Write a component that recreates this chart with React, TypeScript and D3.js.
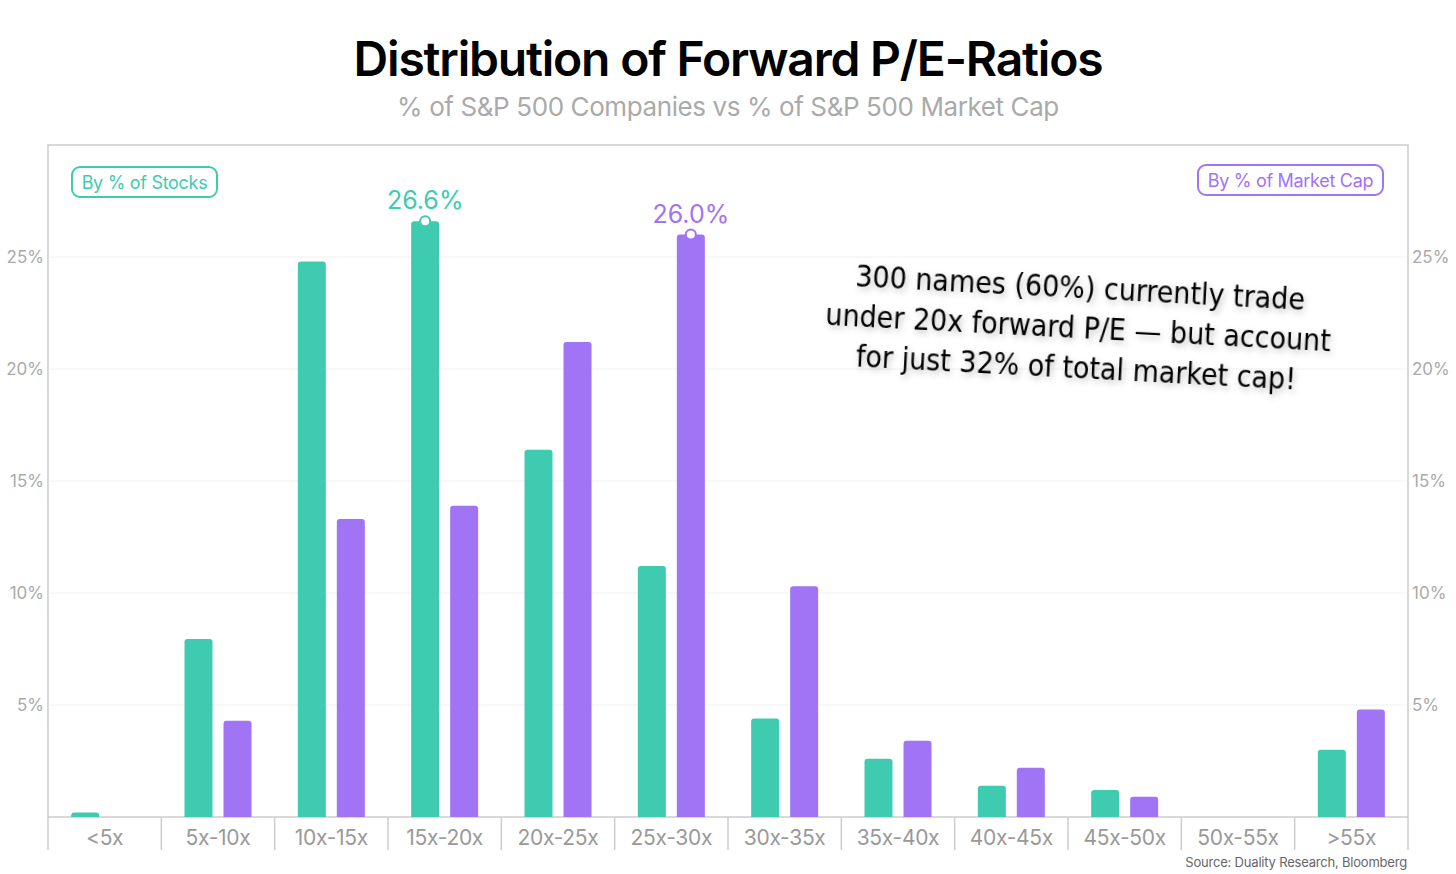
import React from "react";
import * as d3 from "d3";

const categories = ["<5x","5x-10x","10x-15x","15x-20x","20x-25x","25x-30x","30x-35x","35x-40x","40x-45x","45x-50x","50x-55x",">55x"];
const stocks = [0.2,7.95,24.8,26.6,16.4,11.2,4.4,2.6,1.4,1.2,0,3.0];
const mcap = [0,4.3,13.3,13.9,21.2,26.0,10.3,3.4,2.2,0.9,0,4.8];
const yTicks = [5,10,15,20,25];

const G = "#3ECBB0", P = "#A173F5";
const W = 1456, H = 874, L = 48, R = 1408, T = 145, B = 817;

function topRounded(x: number, y: number, w: number, h: number, r: number) {
  if (h <= 0) return "";
  r = Math.min(r, h);
  return `M${x},${y + h}V${y + r}Q${x},${y} ${x + r},${y}H${x + w - r}Q${x + w},${y} ${x + w},${y + r}V${y + h}Z`;
}

export default function App() {
  const x = d3.scaleBand().domain(categories).range([L, R]);
  const y = d3.scaleLinear().domain([0, 30]).range([B, T]);
  const bw = 28, off = 19.5;
  const font = "Inter, 'Noto Sans', sans-serif";
  const imax = 3, jmax = 5;
  return (
    <svg width={W} height={H} style={{ position: "absolute", left: 0, top: 0, background: "#fff" }} fontFamily={font}>
      <text x={728} y={76} textAnchor="middle" fontSize={48} fontWeight={600} letterSpacing={-1.2} fill="#000">Distribution of Forward P/E-Ratios</text>
      <text x={728} y={116} textAnchor="middle" fontSize={26} letterSpacing={-0.4} fill="#aaa">% of S&amp;P 500 Companies vs % of S&amp;P 500 Market Cap</text>
      {yTicks.map(t => (
        <g key={t}>
          <line x1={L} x2={R} y1={y(t)} y2={y(t)} stroke="#f0f0f0" />
          <text x={44} y={y(t) + 6} textAnchor="end" fontSize={17} fill="#aaa">{t}%</text>
          <text x={1412} y={y(t) + 6} fontSize={17} fill="#aaa">{t}%</text>
        </g>
      ))}
      <rect x={L} y={T} width={R - L} height={B - T} fill="none" stroke="#ccc" strokeWidth={1.5} />
      {categories.map((c, i) => {
        const cx = x(c)! + x.bandwidth() / 2;
        return (
          <g key={c}>
            <path d={topRounded(cx - off - bw / 2, y(stocks[i]), bw, B - y(stocks[i]), 3)} fill={G} />
            <path d={topRounded(cx + off - bw / 2, y(mcap[i]), bw, B - y(mcap[i]), 3)} fill={P} />
            <text x={cx} y={845} textAnchor="middle" fontSize={21} letterSpacing={-0.3} fill="#999">{c}</text>
          </g>
        );
      })}
      {d3.range(13).map(k => (
        <line key={k} x1={L + k * x.bandwidth()} x2={L + k * x.bandwidth()} y1={B} y2={850} stroke="#ccc" strokeWidth={1.5} />
      ))}
      {(() => {
        const gx = x(categories[imax])! + x.bandwidth() / 2 - off;
        const px = x(categories[jmax])! + x.bandwidth() / 2 + off;
        return (
          <g>
            <circle cx={gx} cy={y(stocks[imax])} r={5} fill="#fff" stroke={G} strokeWidth={2} />
            <text x={gx} y={y(stocks[imax]) - 12} textAnchor="middle" fontSize={25} fill={G}>{stocks[imax].toFixed(1)}%</text>
            <circle cx={px} cy={y(mcap[jmax])} r={5} fill="#fff" stroke={P} strokeWidth={2} />
            <text x={px} y={y(mcap[jmax]) - 12} textAnchor="middle" fontSize={25} fill={P}>{mcap[jmax].toFixed(1)}%</text>
          </g>
        );
      })()}
      <rect x={72} y={167} width={145} height={30} rx={8} fill="#fff" stroke={G} strokeWidth={2} />
      <text x={144.5} y={189} textAnchor="middle" fontSize={18} letterSpacing={-0.3} fill={G}>By % of Stocks</text>
      <rect x={1198} y={165} width={185} height={30} rx={8} fill="#fff" stroke={P} strokeWidth={2} />
      <text x={1290.5} y={187} textAnchor="middle" fontSize={18} letterSpacing={-0.3} fill={P}>By % of Market Cap</text>
      <g transform="rotate(3 1078 330)" fontFamily="'DejaVu Sans Condensed', 'Liberation Sans Narrow', sans-serif" fontSize={30} fill="#000" textAnchor="middle" style={{ filter: "drop-shadow(2px 3px 3px rgba(0,0,0,0.25))" }}>
        <text x={1078} y={298}>300 names (60%) currently trade</text>
        <text x={1078} y={338}>under 20x forward P/E — but account</text>
        <text x={1078} y={378}>for just 32% of total market cap!</text>
      </g>
      <text x={1407} y={867} textAnchor="end" fontSize={13} letterSpacing={-0.2} fill="#666">Source: Duality Research, Bloomberg</text>
    </svg>
  );
}
